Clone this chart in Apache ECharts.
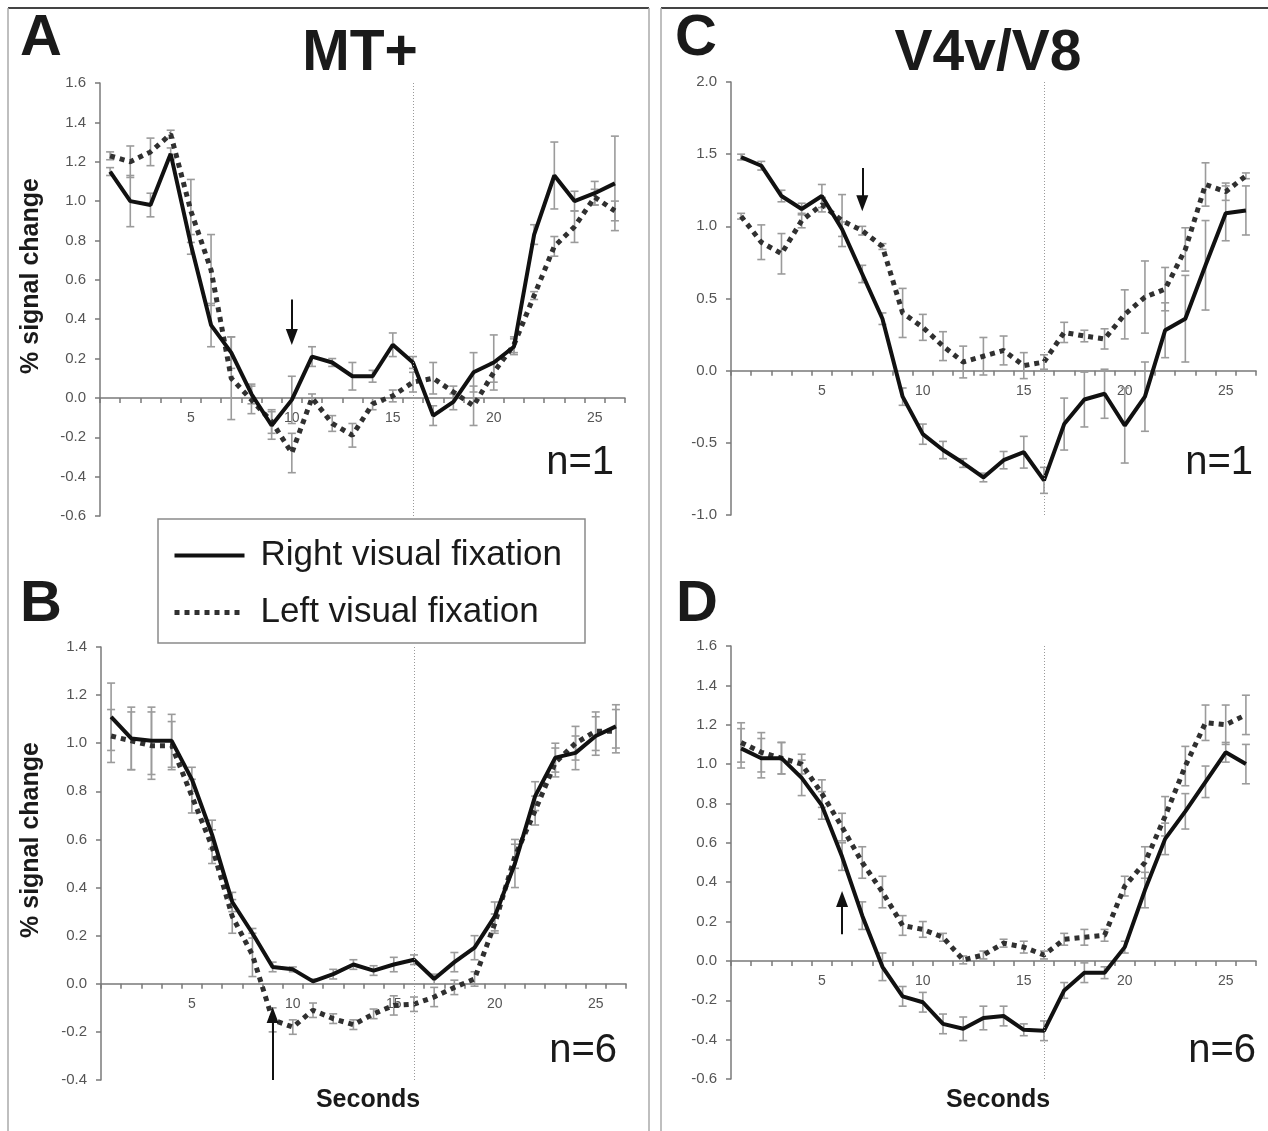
<!DOCTYPE html>
<html><head><meta charset="utf-8">
<script src="https://cdn.jsdelivr.net/npm/echarts@6/dist/echarts.min.js"></script>
<style>html,body{margin:0;padding:0;background:#fff}#c{width:1268px;height:1131px}</style>
</head><body><div id="c"></div>
<script>
// ---------- data ----------
const categories = ['1','2','3','4','5','6','7','8','9','10','11','12','13','14','15','16','17','18','19','20','21','22','23','24','25','26'];
const seriesNames = ['Right visual fixation', 'Left visual fixation'];

// Panel A  (MT+, n=1)
const aRight    = [1.15,1.00,0.98,1.24,0.78,0.37,0.23,0.02,-0.14,-0.01,0.21,0.18,0.11,0.11,0.27,0.18,-0.09,-0.02,0.13,0.18,0.26,0.83,1.13,1.00,1.04,1.09];
const aLeft     = [1.23,1.20,1.25,1.34,0.95,0.65,0.10,-0.01,-0.12,-0.28,0.00,-0.13,-0.19,-0.03,0.01,0.08,0.10,0.03,-0.04,0.13,0.27,0.52,0.77,0.87,1.02,0.95];
const aRightErr = [0.02,0.13,0.06,0.03,0.05,0.11,0.08,0.05,0.07,0.12,0.05,0.02,0.07,0.03,0.06,0.03,0.05,0.04,0.10,0.14,0.04,0.05,0.17,0.05,0.06,0.24];
const aLeftErr  = [0.02,0.08,0.07,0.02,0.16,0.18,0.21,0.07,0.06,0.10,0.02,0.04,0.06,0.03,0.03,0.05,0.08,0.03,0.10,0.05,0.04,0.02,0.05,0.08,0.04,0.05];

// Panel B  (MT+, n=6)
const bRight    = [1.11,1.02,1.01,1.01,0.85,0.62,0.34,0.21,0.07,0.06,0.01,0.04,0.08,0.055,0.08,0.10,0.02,0.09,0.15,0.28,0.50,0.78,0.94,0.96,1.03,1.07];
const bLeft     = [1.03,1.01,0.99,0.99,0.78,0.57,0.28,0.12,-0.15,-0.18,-0.11,-0.145,-0.17,-0.125,-0.09,-0.085,-0.055,-0.015,0.02,0.25,0.53,0.72,0.92,1.00,1.05,1.05];
const bRightErr = [0.14,0.13,0.14,0.11,0.05,0.06,0.04,0.02,0.02,0.01,0.01,0.02,0.02,0.02,0.03,0.02,0.02,0.04,0.05,0.06,0.10,0.06,0.06,0.07,0.08,0.09];
const bLeftErr  = [0.11,0.12,0.14,0.10,0.07,0.07,0.07,0.09,0.05,0.03,0.03,0.02,0.02,0.02,0.04,0.03,0.04,0.03,0.03,0.04,0.05,0.06,0.06,0.07,0.08,0.09];

// Panel C  (V4v/V8, n=1)
const cRight    = [1.48,1.42,1.21,1.12,1.21,0.98,0.67,0.36,-0.18,-0.44,-0.55,-0.64,-0.74,-0.62,-0.565,-0.76,-0.37,-0.20,-0.16,-0.38,-0.18,0.28,0.36,0.73,1.09,1.11];
const cLeft     = [1.07,0.89,0.81,1.04,1.15,1.04,0.97,0.86,0.40,0.30,0.17,0.06,0.10,0.14,0.035,0.06,0.265,0.24,0.22,0.39,0.51,0.565,0.84,1.29,1.24,1.35];
const cRightErr = [0.02,0.03,0.04,0.04,0.08,0.05,0.06,0.04,0.06,0.07,0.06,0.03,0.03,0.06,0.11,0.09,0.18,0.19,0.17,0.26,0.24,0.19,0.30,0.31,0.19,0.17];
const cLeftErr  = [0.02,0.12,0.14,0.05,0.05,0.18,0.03,0.02,0.17,0.09,0.10,0.11,0.13,0.10,0.09,0.05,0.07,0.04,0.07,0.17,0.25,0.15,0.15,0.15,0.06,0.02];

// Panel D  (V4v/V8, n=6)
const dRight    = [1.08,1.03,1.03,0.93,0.79,0.53,0.23,-0.03,-0.18,-0.21,-0.32,-0.345,-0.29,-0.28,-0.35,-0.355,-0.15,-0.06,-0.06,0.07,0.36,0.62,0.76,0.91,1.06,1.00];
const dLeft     = [1.11,1.06,1.03,1.00,0.85,0.68,0.50,0.35,0.18,0.16,0.12,0.005,0.03,0.09,0.07,0.03,0.11,0.12,0.13,0.38,0.50,0.735,0.99,1.21,1.20,1.25];
const dRightErr = [0.10,0.10,0.08,0.09,0.07,0.07,0.07,0.07,0.05,0.05,0.05,0.06,0.06,0.05,0.03,0.05,0.04,0.05,0.03,0.03,0.09,0.08,0.09,0.08,0.05,0.10];
const dLeftErr  = [0.10,0.10,0.08,0.05,0.07,0.07,0.08,0.08,0.05,0.04,0.02,0.02,0.02,0.02,0.03,0.02,0.03,0.04,0.03,0.05,0.08,0.10,0.10,0.09,0.10,0.10];

// y-axis ranges per panel
const yRanges = [
  {min:-0.6, max:1.6, interval:0.2},
  {min:-0.4, max:1.4, interval:0.2},
  {min:-1.0, max:2.0, interval:0.5},
  {min:-0.6, max:1.6, interval:0.2}
];
// stimulus-offset line and arrow annotations (category, value from, value to)
const offsetCategory = '16';
const arrows = [
  {cat:'10', from:0.50, to:0.31},
  {cat:'9',  from:-0.40, to:-0.13},
  {cat:'7',  from:1.405, to:1.16},
  {cat:'6',  from:0.135, to:0.314}
];

// ---------- layout ----------
const grids = [
  {left:100, top:83,  width:525, height:433},
  {left:101, top:647, width:525, height:433},
  {left:731, top:82,  width:525, height:433},
  {left:731, top:646, width:525, height:433}
];
const panelData = [
  [aRight, aLeft, aRightErr, aLeftErr],
  [bRight, bLeft, bRightErr, bLeftErr],
  [cRight, cLeft, cRightErr, cLeftErr],
  [dRight, dLeft, dRightErr, dLeftErr]
];

const FONT = '"Liberation Sans", Arial, Helvetica, sans-serif';
const axisGray = '#7a7a7a';

function errSeries(i, vals, errs) {
  return {
    type: 'custom', xAxisIndex: i, yAxisIndex: i, z: 1, silent: true, clip: false,
    encode: {x: 0, y: [1, 2]},
    data: vals.map((v, k) => [k, +(v - errs[k]).toFixed(3), +(v + errs[k]).toFixed(3)]),
    renderItem(params, api) {
      const x = api.value(0);
      const lo = api.coord([x, api.value(1)]);
      const hi = api.coord([x, api.value(2)]);
      const w = 4;
      const st = {stroke: '#9b9b9b', lineWidth: 1.6};
      return {type: 'group', children: [
        {type: 'line', shape: {x1: lo[0], y1: lo[1], x2: hi[0], y2: hi[1]}, style: st},
        {type: 'line', shape: {x1: lo[0] - w, y1: lo[1], x2: lo[0] + w, y2: lo[1]}, style: st},
        {type: 'line', shape: {x1: hi[0] - w, y1: hi[1], x2: hi[0] + w, y2: hi[1]}, style: st}
      ]};
    }
  };
}

const xAxes = [], yAxes = [], series = [];
grids.forEach((g, i) => {
  const yr = yRanges[i];
  // place the category axis at value 0 (inside the grid)
  const zeroOffset = -(0 - yr.min) / (yr.max - yr.min) * g.height;
  xAxes.push({
    type: 'category', gridIndex: i, data: categories, boundaryGap: true,
    position: 'bottom', offset: zeroOffset,
    axisLine: {onZero: false, lineStyle: {color: axisGray, width: 1.5}},
    axisTick: {show: true, interval: 0, length: 5, lineStyle: {color: axisGray, width: 1.5}},
    axisLabel: {interval: (idx) => (idx + 1) % 5 === 0, color: '#555', fontSize: 14, fontFamily: FONT, margin: 13},
    splitLine: {show: false}
  });
  yAxes.push({
    type: 'value', gridIndex: i, min: yr.min, max: yr.max, interval: yr.interval,
    axisLine: {show: true, lineStyle: {color: axisGray, width: 1.5}},
    axisTick: {show: true, length: 5, lineStyle: {color: axisGray, width: 1.5}},
    axisLabel: {color: '#555', fontSize: 15, fontFamily: FONT, margin: 14, formatter: (v) => v.toFixed(1)},
    splitLine: {show: false}
  });
  const [r, l, re, le] = panelData[i];
  series.push(errSeries(i, r, re));
  series.push(errSeries(i, l, le));
  series.push({
    type: 'line', name: seriesNames[1], xAxisIndex: i, yAxisIndex: i, data: l,
    symbol: 'none', z: 3,
    lineStyle: {color: '#303030', width: 5, type: [5, 5], cap: 'butt'},
    itemStyle: {color: '#303030'},
    markLine: {
      silent: true, symbol: 'none', animation: false,
      label: {show: false},
      lineStyle: {color: '#999', width: 1, type: [1, 2]},
      data: [{xAxis: offsetCategory}]
    }
  });
  const a = arrows[i];
  series.push({
    type: 'line', name: seriesNames[0], xAxisIndex: i, yAxisIndex: i, data: r,
    symbol: 'none', z: 4,
    lineStyle: {color: '#111', width: 4},
    itemStyle: {color: '#111'},
    markLine: {
      silent: true, animation: false,
      label: {show: false},
      lineStyle: {color: '#111', width: 2, type: 'solid'},
      data: [[
        {coord: [a.cat, a.from], symbol: 'none'},
        {coord: [a.cat, a.to], symbol: 'triangle', symbolSize: [12, 16]}
      ]]
    }
  });
});

function txt(text, x, y, font, align, extra) {
  return Object.assign({
    type: 'text', x: x, y: y, z: 50,
    style: {text: text, font: font, fill: '#1a1a1a', align: align || 'left', verticalAlign: 'middle'}
  }, extra || {});
}
const big = 'bold 58px ' + FONT;
const ttl = 'bold 57px ' + FONT;
const nfont = '40px ' + FONT;
const axt = 'bold 25px ' + FONT;

const graphic = [
  // panel frames
  {type: 'line', shape: {x1: 8, y1: 8, x2: 649, y2: 8}, style: {stroke: '#444', lineWidth: 2}, z: 1},
  {type: 'line', shape: {x1: 661, y1: 8, x2: 1268, y2: 8}, style: {stroke: '#444', lineWidth: 2}, z: 1},
  {type: 'line', shape: {x1: 8, y1: 8, x2: 8, y2: 1131}, style: {stroke: '#aaa', lineWidth: 1.5}, z: 1},
  {type: 'line', shape: {x1: 649, y1: 8, x2: 649, y2: 1131}, style: {stroke: '#aaa', lineWidth: 1.5}, z: 1},
  {type: 'line', shape: {x1: 661, y1: 8, x2: 661, y2: 1131}, style: {stroke: '#aaa', lineWidth: 1.5}, z: 1},
  // legend box
  {type: 'rect', shape: {x: 158, y: 519, width: 427, height: 124}, style: {fill: '#fff', stroke: '#8a8a8a', lineWidth: 1.5}, z: 5},
  // labels
  txt('A', 20, 39, big),
  txt('B', 20, 605, big),
  txt('C', 675, 39, big),
  txt('D', 676, 605, big),
  txt('MT+', 360, 54, ttl, 'center'),
  txt('V4v/V8', 988, 54, ttl, 'center'),
  txt('n=1', 614, 463, nfont, 'right'),
  txt('n=6', 617, 1051, nfont, 'right'),
  txt('n=1', 1253, 463, nfont, 'right'),
  txt('n=6', 1256, 1051, nfont, 'right'),
  txt('Seconds', 368, 1100, axt, 'center'),
  txt('Seconds', 998, 1100, axt, 'center'),
  txt('% signal change', 31, 276, axt, 'center', {rotation: Math.PI / 2}),
  txt('% signal change', 31, 840, axt, 'center', {rotation: Math.PI / 2})
];

const chart = echarts.init(document.getElementById('c'), null, {renderer: 'canvas'});
chart.setOption({
  backgroundColor: '#fff',
  animation: false,
  grid: grids.map(g => Object.assign({containLabel: false}, g)),
  xAxis: xAxes,
  yAxis: yAxes,
  series: series,
  legend: {
    data: [
      {name: seriesNames[0], lineStyle: {color: '#111', width: 4, type: 'solid'}},
      {name: seriesNames[1], lineStyle: {color: '#303030', width: 5, type: [5, 5], cap: 'butt'}}
    ],
    orient: 'vertical', left: 158, top: 519,
    padding: [19, 20, 16, 14], itemWidth: 70, itemHeight: 36, itemGap: 22,
    selectedMode: false, z: 10,
    itemStyle: {color: 'transparent', borderColor: 'transparent', borderWidth: 0, opacity: 0},
    textStyle: {fontSize: 35, color: '#1a1a1a', fontFamily: FONT, padding: [0, 0, 0, 11]}
  },
  graphic: graphic
});
</script>
</body></html>
